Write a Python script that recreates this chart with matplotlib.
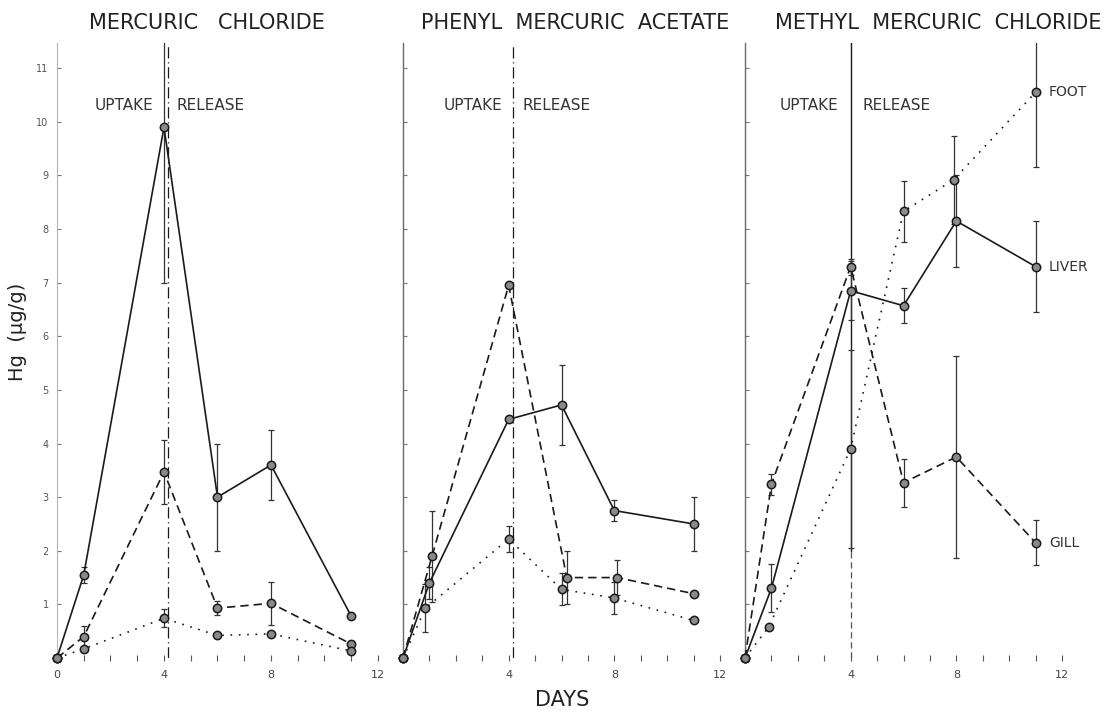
import numpy as np
import matplotlib
matplotlib.use('Agg')
import matplotlib.pyplot as plt
from matplotlib.transforms import blended_transform_factory

# Panel titles
titles = ['MERCURIC   CHLORIDE', 'PHENYL  MERCURIC  ACETATE', 'METHYL  MERCURIC  CHLORIDE']

# Mercuric chloride
hgcl_liver_days = [0, 1, 4, 6, 8, 11]
hgcl_liver = [0, 1.55, 9.9, 3.0, 3.6, 0.78]
hgcl_liver_err = [0, 0.15, 2.9, 1.0, 0.65, 0]
hgcl_gill_days = [0, 1, 4, 6, 8, 11]
hgcl_gill = [0, 0.4, 3.47, 0.93, 1.02, 0.26]
hgcl_gill_err = [0, 0.2, 0.6, 0.13, 0.4, 0]
hgcl_foot_days = [0, 1, 4, 6, 8, 11]
hgcl_foot = [0, 0.17, 0.74, 0.42, 0.45, 0.13]
hgcl_foot_err = [0, 0, 0.17, 0, 0, 0]

# Phenyl mercuric acetate
pma_liver_days = [0, 1, 4, 6, 8, 11]
pma_liver = [0, 1.4, 4.45, 4.72, 2.75, 2.5]
pma_liver_err = [0, 0.3, 0, 0.75, 0.2, 0.5]
pma_gill_days = [0, 1.1, 4, 6.2, 8.1, 11]
pma_gill = [0, 1.9, 6.95, 1.5, 1.5, 1.2]
pma_gill_err = [0, 0.85, 0, 0.5, 0.32, 0]
pma_foot_days = [0, 0.85, 4, 6, 8, 11]
pma_foot = [0, 0.93, 2.22, 1.28, 1.12, 0.7]
pma_foot_err = [0, 0.45, 0.25, 0.3, 0.3, 0]

# Methyl mercuric chloride
mmc_liver_days = [0, 1, 4, 6, 8, 11]
mmc_liver = [0, 1.3, 6.85, 6.57, 8.15, 7.3]
mmc_liver_err = [0, 0.45, 0.55, 0.33, 0.85, 0.85]
mmc_gill_days = [0, 1, 4, 6, 8, 11]
mmc_gill = [0, 3.24, 7.3, 3.27, 3.75, 2.15]
mmc_gill_err = [0, 0.2, 0.15, 0.45, 1.88, 0.42]
mmc_foot_days = [0, 0.9, 4, 6, 7.9, 11]
mmc_foot = [0, 0.58, 3.9, 8.33, 8.92, 10.55]
mmc_foot_err = [0, 0, 1.85, 0.57, 0.82, 1.4]

panels = [
    [(hgcl_liver_days, hgcl_liver, hgcl_liver_err),
     (hgcl_gill_days, hgcl_gill, hgcl_gill_err),
     (hgcl_foot_days, hgcl_foot, hgcl_foot_err)],
    [(pma_liver_days, pma_liver, pma_liver_err),
     (pma_gill_days, pma_gill, pma_gill_err),
     (pma_foot_days, pma_foot, pma_foot_err)],
    [(mmc_liver_days, mmc_liver, mmc_liver_err),
     (mmc_gill_days, mmc_gill, mmc_gill_err),
     (mmc_foot_days, mmc_foot, mmc_foot_err)],
]

# uptake / release boundary and text positions
divider_x = [4.15, 4.15, 4.03]
uptake_x = [3.6, 3.75, 3.55]
release_x = [4.45, 4.53, 4.45]
phase_y = 10.3
title_x = [5.6, 6.5, 7.3]

# tissue labels on the last panel
tissue_names = ['LIVER', 'GILL', 'FOOT']
tissue_label_x = 11.5

styles = ['-', (0, (5, 3)), (0, (1, 4))]
ink = '#1a1a1a'

fig = plt.figure(figsize=(11.15, 7.13), dpi=100)
lefts = [57 / 1115, 403 / 1115, 745 / 1115]
widths = [321 / 1115, 317 / 1115, 317 / 1115]
bottom = 55 / 713
height = 615 / 713

for i in range(3):
    ax = fig.add_axes([lefts[i], bottom, widths[i], height])
    ax.set_xlim(0, 12)
    ax.set_ylim(0, 11.47)
    for s in ['top', 'right', 'bottom']:
        ax.spines[s].set_visible(False)
    if i == 0:
        ax.spines['left'].set_color('#b5b5b5')
        ax.spines['left'].set_linewidth(0.8)
    else:
        ax.spines['left'].set_color('#6a6a6a')
        ax.spines['left'].set_linewidth(1.0)

    ax.set_xticks(range(0, 13))
    if i == 0:
        ax.set_xticklabels([str(d) if d % 4 == 0 else '' for d in range(13)])
    else:
        ax.set_xticklabels([str(d) if d % 4 == 0 and d > 0 else '' for d in range(13)])
    ax.set_yticks(range(1, 12))
    if i == 0:
        ax.set_yticklabels([str(v) for v in range(1, 12)])
    else:
        ax.set_yticklabels([])
    ax.tick_params(axis='x', direction='inout', length=5, width=0.8, color='#555555',
                   labelsize=8, labelcolor='#444444', pad=6)
    ax.tick_params(axis='y', direction='in', length=3, width=0.8, color='#777777',
                   labelsize=7, labelcolor='#555555', pad=6)

    # uptake / release divider
    if i < 2:
        ax.axvline(divider_x[i], color=ink, lw=0.9, linestyle=(0, (9, 3, 1, 3)))
    else:
        ax.plot([divider_x[i], divider_x[i]], [2.0, 11.47], color=ink, lw=1.0)
        ax.plot([divider_x[i], divider_x[i]], [0, 2.0], color='#555555', lw=0.9,
                linestyle=(0, (5, 3)))

    for (days, vals, errs), ls in zip(panels[i], styles):
        ax.plot(days, vals, color=ink, lw=1.2, linestyle=ls, zorder=3)
        ax.errorbar(days, vals, yerr=errs, fmt='none', ecolor='#333333',
                    elinewidth=0.9, capsize=2.5, capthick=0.9, zorder=2)
        ax.plot(days, vals, linestyle='none', marker='o', ms=6, mfc='#8a8a8a',
                mec=ink, mew=1.1, zorder=4, clip_on=False)

    ax.text(uptake_x[i], phase_y, 'UPTAKE', ha='right', va='center',
            fontsize=11, color='#333333')
    ax.text(release_x[i], phase_y, 'RELEASE', ha='left', va='center',
            fontsize=11, color='#333333')

    trans = blended_transform_factory(ax.transData, ax.transAxes)
    ax.text(title_x[i], 1.033, titles[i], transform=trans, ha='center', va='center',
            fontsize=15, color='#222222')

# tissue labels next to last points of the methyl mercuric chloride panel
ax3 = fig.axes[2]
for name, (days, vals, errs) in zip(tissue_names, panels[2]):
    ax3.text(tissue_label_x, vals[-1], name, ha='left', va='center',
             fontsize=10, color='#333333', clip_on=False)

fig.text(18 / 1115, 1 - 332 / 713, 'Hg  (\u00b5g/g)', rotation=90, ha='center',
         va='center', fontsize=14, color='#222222')
fig.text(562 / 1115, 1 - 700 / 713, 'DAYS', ha='center', va='center',
         fontsize=15, color='#222222')

fig.savefig('out.png', dpi=100)
